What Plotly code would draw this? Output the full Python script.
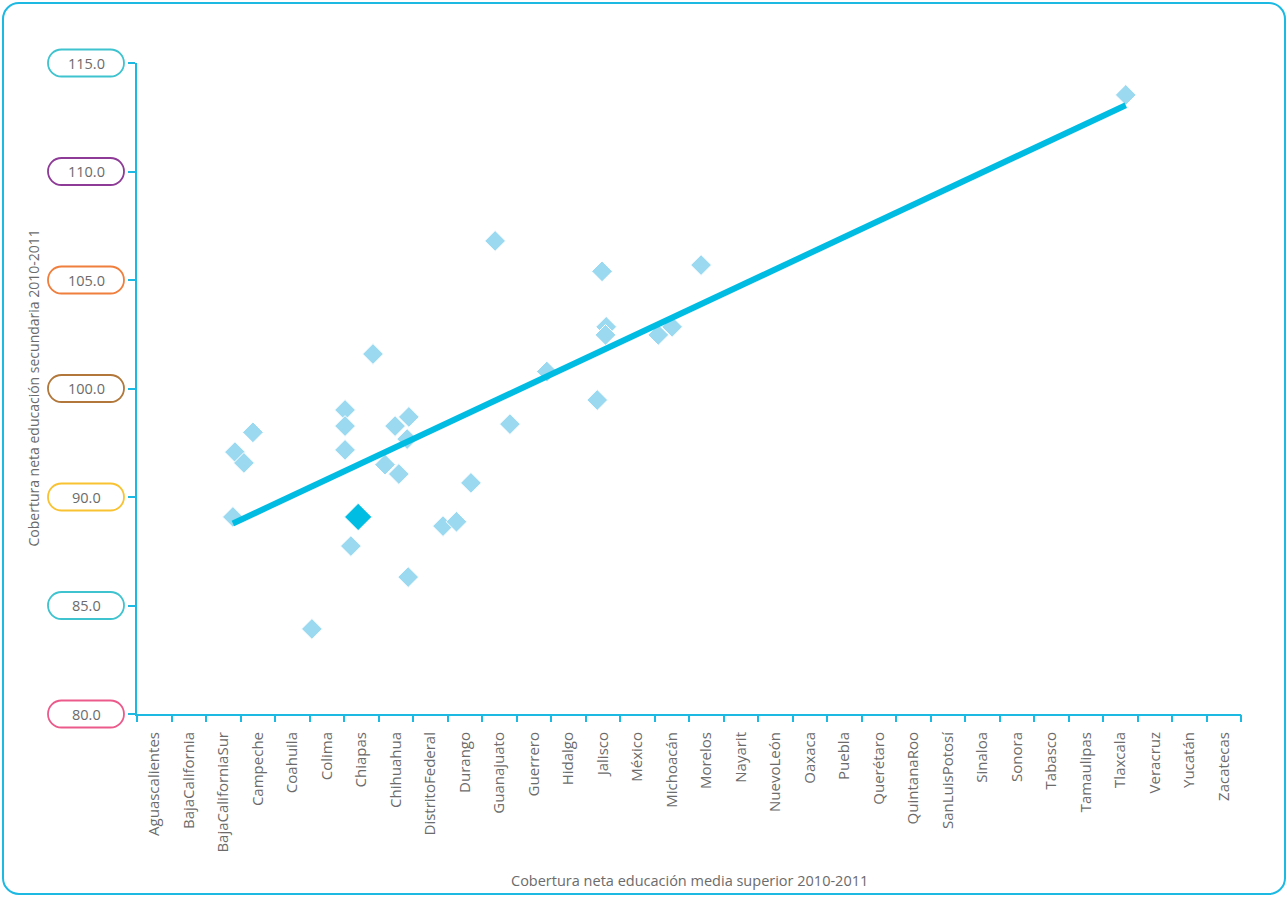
import numpy as np
import plotly.graph_objects as go

# ---------------- data ----------------
states = ["Aguascalientes", "BajaCalifornia", "BajaCaliforniaSur", "Campeche", "Coahuila",
          "Colima", "Chiapas", "Chihuahua", "DistritoFederal", "Durango", "Guanajuato",
          "Guerrero", "Hidalgo", "Jalisco", "México", "Michoacán", "Morelos", "Nayarit",
          "NuevoLeón", "Oaxaca", "Puebla", "Querétaro", "QuintanaRoo", "SanLuisPotosí",
          "Sinaloa", "Sonora", "Tabasco", "Tamaulipas", "Tlaxcala", "Veracruz", "Yucatán",
          "Zacatecas"]

x_media_superior = [2.28, 2.34, 2.60, 2.86, 4.57, 5.53, 5.53, 5.53, 5.70, 6.34, 6.69,
                    6.98, 7.09, 7.38, 7.33, 7.36, 8.37, 8.76, 9.18, 9.88, 10.31, 11.38,
                    12.84, 12.98, 13.10, 13.08, 14.61, 15.01, 15.85, 28.16]
y_secundaria = [89.08, 92.07, 91.57, 92.98, 83.92, 94.01, 93.27, 92.17, 87.74, 96.59, 91.49,
                93.27, 91.06, 93.69, 92.67, 86.31, 88.66, 88.86, 90.65, 101.80, 93.36, 95.78,
                94.47, 100.40, 97.84, 97.47, 97.47, 97.84, 100.69, 108.53]

highlight_name = "Chiapas"
highlight_x = [5.91]
highlight_y = [89.08]

y_tick_vals = [80, 85, 90, 95, 100, 105, 110]
y_tick_text = ["80.0", "85.0", "90.0", "100.0", "105.0", "110.0", "115.0"]
y_tick_colors = ["#ec5a8c", "#3ec3cf", "#f8c232", "#b2773a", "#f07e3c", "#8e3b97", "#3ec3cf"]

x_title = "Cobertura neta educación media superior 2010-2011"
y_title = "Cobertura neta educación secundaria 2010-2011"

# ---------------- layout geometry ----------------
W, H = 1288, 897
L, R, T, B = 137, 1241, 63, 714
PW, PH = R - L, B - T
Y0, Y1 = 80, 110
X0, X1 = -0.5, len(states) - 0.5

CYAN = "#1db9e3"
GREY = "#6b6b6b"
FONT = "Open Sans"


def px(X):
    return (X - L) / PW


def py(Y):
    return (B - Y) / PH


def rounded(x0, y0, x1, y1, r):
    k = 0.5523 * r
    pts = [
        ("M", [(x0 + r, y0)]),
        ("L", [(x1 - r, y0)]),
        ("C", [(x1 - r + k, y0), (x1, y0 + r - k), (x1, y0 + r)]),
        ("L", [(x1, y1 - r)]),
        ("C", [(x1, y1 - r + k), (x1 - r + k, y1), (x1 - r, y1)]),
        ("L", [(x0 + r, y1)]),
        ("C", [(x0 + r - k, y1), (x0, y1 - r + k), (x0, y1 - r)]),
        ("L", [(x0, y0 + r)]),
        ("C", [(x0, y0 + r - k), (x0 + r - k, y0), (x0 + r, y0)]),
    ]
    s = ""
    for cmd, ps in pts:
        s += cmd + " " + " ".join(f"{px(a):.5f},{py(b):.5f}" for a, b in ps) + " "
    return s + "Z"


fig = go.Figure()

fig.add_trace(go.Scatter(
    x=x_media_superior, y=y_secundaria, mode="markers",
    marker=dict(symbol="diamond", size=16, color="#9ad9f0",
                line=dict(color="white", width=1)),
    hoverinfo="x+y", showlegend=False))

# trend line (least squares on the plotted points)
all_x = np.array(x_media_superior + highlight_x)
all_y = np.array(y_secundaria + highlight_y)
slope, intercept = np.polyfit(all_x, all_y, 1)
tx = [all_x.min(), all_x.max()]
ty = [slope * v + intercept for v in tx]
fig.add_trace(go.Scatter(x=tx, y=ty, mode="lines",
                         line=dict(color="#00bce3", width=6),
                         hoverinfo="skip", showlegend=False))

fig.add_trace(go.Scatter(
    x=highlight_x, y=highlight_y, mode="markers", name=highlight_name,
    marker=dict(symbol="diamond", size=21, color="#00bde3",
                line=dict(color="white", width=1)),
    showlegend=False))

# boundary ticks on overlaid axis
fig.add_trace(go.Scatter(x=[X0], y=[Y0], xaxis="x2", mode="markers",
                         marker=dict(opacity=0), hoverinfo="skip", showlegend=False))

shapes = []
annotations = []

# outer rounded border
shapes.append(dict(type="path", xref="paper", yref="paper",
                   path=rounded(3, 3, 1285, 894, 16),
                   line=dict(color=CYAN, width=2), fillcolor="rgba(0,0,0,0)",
                   layer="below"))

# y tick label pills
for v, txt, col in zip(y_tick_vals, y_tick_text, y_tick_colors):
    Yp = B - (v - Y0) / (Y1 - Y0) * PH
    shapes.append(dict(type="path", xref="paper", yref="paper",
                       path=rounded(48, Yp - 13.5, 124, Yp + 13.5, 13.5),
                       line=dict(color=col, width=1.8), fillcolor="white"))
    annotations.append(dict(x=px(86), y=py(Yp), xref="paper", yref="paper",
                            text=txt, showarrow=False, xanchor="center", yanchor="middle",
                            font=dict(family=FONT, size=14.5, color=GREY)))

annotations.append(dict(x=0.5, y=py(880), xref="paper", yref="paper", text=x_title,
                        showarrow=False, xanchor="center", yanchor="middle",
                        font=dict(family=FONT, size=14.5, color=GREY)))
annotations.append(dict(x=px(33), y=0.5, xref="paper", yref="paper", text=y_title,
                        textangle=-90, showarrow=False, xanchor="center", yanchor="middle",
                        font=dict(family=FONT, size=14, color=GREY)))

fig.update_layout(
    width=W, height=H,
    margin=dict(l=L, r=W - R, t=T, b=H - B),
    paper_bgcolor="white", plot_bgcolor="white",
    shapes=shapes, annotations=annotations,
    xaxis=dict(range=[X0, X1], tickmode="array", tickvals=list(range(len(states))),
               ticktext=states, tickangle=-90, ticks="outside", ticklen=10,
               tickcolor="rgba(0,0,0,0)", showgrid=False, zeroline=False,
               showline=True, linecolor=CYAN, linewidth=2,
               tickfont=dict(family=FONT, size=15, color=GREY)),
    xaxis2=dict(range=[X0, X1], overlaying="x", anchor="y", side="bottom",
                tickmode="array", tickvals=[i - 0.5 for i in range(len(states) + 1)],
                showticklabels=False, ticks="outside", ticklen=7, tickwidth=2,
                tickcolor=CYAN, showgrid=False, zeroline=False, showline=False),
    yaxis=dict(range=[Y0, Y1], tickmode="array", tickvals=y_tick_vals,
               showticklabels=False, ticks="outside", ticklen=7, tickwidth=2,
               tickcolor=CYAN, showgrid=False, zeroline=False,
               showline=True, linecolor=CYAN, linewidth=2),
)

fig.write_html("out.html", config={"displayModeBar": False},
               post_script="document.body.style.margin='0';document.body.style.padding='0';")
